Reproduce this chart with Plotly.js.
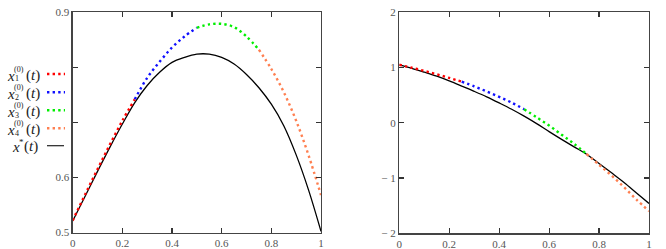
<!DOCTYPE html>
<html>
<head>
<meta charset="utf-8">
<script src="https://cdn.plot.ly/plotly-3.0.1.min.js"></script>
<style>html,body{margin:0;padding:0;background:#fff;}#chart{width:666px;height:249px;}</style>
</head>
<body>
<div id="chart"></div>
<script>
// ---------- data ----------
const tSeg1 = [0, 0.05, 0.1, 0.15, 0.2, 0.25];
const tSeg2 = [0.25, 0.3, 0.35, 0.4, 0.45, 0.5];
const tSeg3 = [0.5, 0.55, 0.6, 0.65, 0.7, 0.75];
const tSeg4 = [0.75, 0.8, 0.85, 0.9, 0.95, 1.0];
const tStar = [0, 0.05, 0.1, 0.15, 0.2, 0.25, 0.3, 0.35, 0.4, 0.45, 0.5,
               0.55, 0.6, 0.65, 0.7, 0.75, 0.8, 0.85, 0.9, 0.95, 1.0];

// left panel
const leftX1 = [0.522, 0.569, 0.615, 0.660, 0.703, 0.742];
const leftX2 = [0.742, 0.781, 0.810, 0.836, 0.856, 0.872];
const leftX3 = [0.872, 0.878, 0.879, 0.873, 0.856, 0.832];
const leftX4 = [0.832, 0.797, 0.755, 0.703, 0.640, 0.568];
const leftStar = [0.521, 0.566, 0.611, 0.655, 0.697, 0.736, 0.767, 0.791, 0.809, 0.818, 0.824,
                  0.824, 0.818, 0.806, 0.787, 0.763, 0.733, 0.694, 0.641, 0.577, 0.502];

// right panel
const rightX1 = [1.05, 0.997, 0.94, 0.878, 0.812, 0.744];
const rightX2 = [0.744, 0.66, 0.567, 0.47, 0.365, 0.245];
const rightX3 = [0.245, 0.10, -0.05, -0.215, -0.38, -0.565];
const rightX4 = [-0.565, -0.76, -0.955, -1.165, -1.39, -1.60];
const rightStar = [1.05, 0.987, 0.917, 0.843, 0.758, 0.665, 0.57, 0.47, 0.36, 0.245, 0.12,
                   -0.015, -0.16, -0.30, -0.435, -0.57, -0.735, -0.905, -1.08, -1.27, -1.46];

const xTicks = [0, 0.2, 0.4, 0.6, 0.8, 1];
const xTickText = ['0', '0.2', '0.4', '0.6', '0.8', '1'];
const leftYTicks = [0.5, 0.6, 0.7, 0.8, 0.9];
const leftYText = ['0.5', '0.6', '', '', '0.9'];
const rightYTicks = [-2, -1, 0, 1, 2];
const rightYText = ['\u2212 2', '\u2212 1', '0', '1', '2'];

const segColors = ['#ff0000', '#1010ff', '#00ee00', '#ff7f50'];
const legendSubs = ['1', '2', '3', '4'];

// ---------- traces ----------
const DOT = '2.4px,3.2px';
function dotted(t, y, c, xa, ya) {
  return {x: t, y: y, type: 'scatter', mode: 'lines', xaxis: xa, yaxis: ya,
          line: {color: c, width: 2.4, dash: DOT, shape: 'spline'}, hoverinfo: 'skip'};
}
function solid(t, y, xa, ya) {
  return {x: t, y: y, type: 'scatter', mode: 'lines', xaxis: xa, yaxis: ya,
          line: {color: '#000', width: 1.3, shape: 'spline'}, hoverinfo: 'skip'};
}
const traces = [
  solid(tStar, leftStar, 'x', 'y'),
  dotted(tSeg1, leftX1, segColors[0], 'x', 'y'),
  dotted(tSeg2, leftX2, segColors[1], 'x', 'y'),
  dotted(tSeg3, leftX3, segColors[2], 'x', 'y'),
  dotted(tSeg4, leftX4, segColors[3], 'x', 'y'),
  solid(tStar, rightStar, 'x2', 'y2'),
  dotted(tSeg1, rightX1, segColors[0], 'x2', 'y2'),
  dotted(tSeg2, rightX2, segColors[1], 'x2', 'y2'),
  dotted(tSeg3, rightX3, segColors[2], 'x2', 'y2'),
  dotted(tSeg4, rightX4, segColors[3], 'x2', 'y2')
];

// ---------- layout ----------
const W = 666, H = 249;
const px = v => v / W;
const py = v => 1 - v / H;
const tickFont = {family: 'Liberation Serif, Times New Roman, serif', size: 11, color: '#555'};
function axis(extra) {
  return Object.assign({
    showgrid: false, zeroline: false, showline: true, linecolor: '#444', linewidth: 1.3,
    mirror: 'ticks', ticks: 'inside', ticklen: 5, tickwidth: 1.2, tickcolor: '#333',
    tickfont: tickFont, tickmode: 'array', fixedrange: true
  }, extra);
}

const layout = {
  width: W, height: H, margin: {l: 0, r: 0, t: 0, b: 0},
  paper_bgcolor: '#fff', plot_bgcolor: '#fff', showlegend: false,
  xaxis: axis({domain: [px(72.7), px(321)], range: [0, 1], tickvals: xTicks, ticktext: xTickText, anchor: 'y'}),
  yaxis: axis({domain: [py(232.5), py(12.3)], range: [0.5, 0.9], tickvals: leftYTicks, ticktext: leftYText, anchor: 'x'}),
  xaxis2: axis({domain: [px(399.3), px(649)], range: [0, 1], tickvals: xTicks, ticktext: xTickText, anchor: 'y2'}),
  yaxis2: axis({domain: [py(233.3), py(12.3)], range: [-2, 2], tickvals: rightYTicks, ticktext: rightYText, anchor: 'x2'}),
  annotations: [], shapes: []
};

const legFont = {family: 'Liberation Serif, Times New Roman, serif', size: 15, color: '#222'};
const smallFont = {family: 'Liberation Serif, Times New Roman, serif', size: 8, color: '#222'};
const starFont = {family: 'Liberation Serif, Times New Roman, serif', size: 9, color: '#222'};
const rowsY = [74, 92.3, 110.3, 128.3, 145.7];
function ann(x, y, text, font) {
  layout.annotations.push({xref: 'paper', yref: 'paper', x: px(x), y: py(y), text: text,
    showarrow: false, xanchor: 'left', yanchor: 'middle', font: font,
    borderpad: 0, borderwidth: 0});
}
for (let i = 0; i < 4; i++) {
  const y = rowsY[i];
  ann(7, y + 1.5, '<i>x</i>', legFont);
  ann(14, y - 4.5, '(0)', smallFont);
  ann(14.5, y + 5, legendSubs[i], smallFont);
  ann(26, y + 1.5, '(<i>t</i>)', legFont);
  layout.shapes.push({type: 'line', xref: 'paper', yref: 'paper', x0: px(47), x1: px(65), y0: py(y), y1: py(y),
    line: {color: segColors[i], width: 2.4, dash: DOT}});
}
ann(12, rowsY[4] + 1, '<i>x</i>', legFont);
ann(19, rowsY[4] - 3.5, '*', starFont);
ann(24, rowsY[4] + 1, '(<i>t</i>)', legFont);
layout.shapes.push({type: 'line', xref: 'paper', yref: 'paper', x0: px(47), x1: px(64), y0: py(rowsY[4]), y1: py(rowsY[4]),
  line: {color: '#222', width: 1.2}});

Plotly.newPlot('chart', traces, layout, {staticPlot: true, displayModeBar: false});
</script>
</body>
</html>
